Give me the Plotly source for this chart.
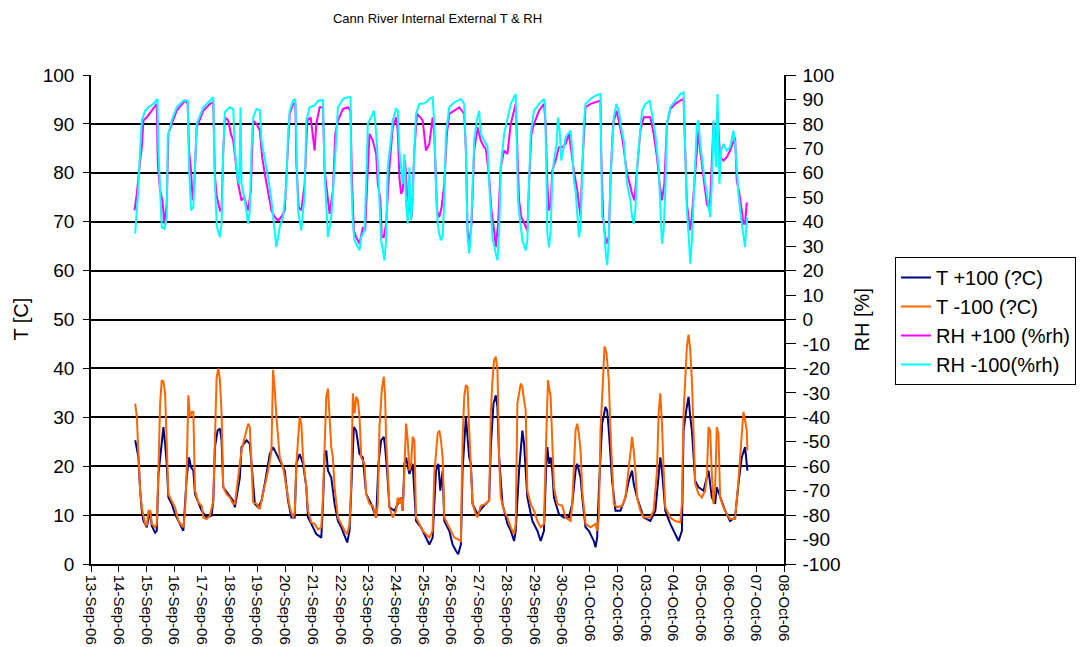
import pandas as pd
import plotly.graph_objects as go

START = pd.Timestamp("2006-09-13")
FONT = "Arial, Liberation Sans, sans-serif"

# Readings as (days since 13-Sep-06 00:00, value)
t_plus = [
    (1.594, 25.3), (1.653, 23.2), (1.713, 21.8), (1.773, 15.0), (1.833, 10.9), (1.893, 8.8),
    (2.013, 7.5), (2.133, 10.9), (2.193, 7.8), (2.313, 6.4), (2.373, 6.8), (2.433, 18.4),
    (2.529, 23.9), (2.613, 28.0), (2.673, 24.6), (2.733, 20.5), (2.792, 13.6), (2.912, 12.3),
    (3.032, 10.2), (3.212, 8.2), (3.332, 6.8), (3.452, 17.7), (3.536, 21.8), (3.608, 19.8),
    (3.692, 19.1), (3.752, 14.3), (3.992, 10.9), (4.171, 9.5), (4.351, 9.9), (4.411, 12.9),
    (4.471, 23.9), (4.567, 27.3), (4.651, 27.7), (4.711, 25.3), (4.771, 15.7), (4.951, 14.3),
    (5.131, 12.9), (5.191, 11.6), (5.370, 17.7), (5.430, 23.9), (5.610, 25.3), (5.730, 24.6),
    (5.790, 20.5), (5.910, 12.3), (6.030, 11.6), (6.150, 12.9), (6.270, 16.4), (6.449, 22.5),
    (6.569, 23.9), (6.689, 22.5), (6.869, 20.5), (6.989, 19.1), (7.109, 12.9), (7.229, 9.5),
    (7.349, 9.5), (7.409, 20.5), (7.528, 22.5), (7.648, 20.5), (7.768, 15.7), (7.828, 9.5),
    (7.948, 8.2), (8.128, 6.1), (8.308, 5.4), (8.368, 12.3), (8.428, 22.5), (8.488, 23.2),
    (8.548, 19.1), (8.668, 17.7), (8.787, 12.3),
    (8.908, 8.8), (9.028, 7.5), (9.148, 5.7), (9.243, 4.4), (9.327, 6.8), (9.387, 15.7),
    (9.483, 28.0), (9.567, 27.3), (9.687, 22.5), (9.807, 21.8), (9.927, 14.3), (10.107, 12.3),
    (10.287, 9.5), (10.371, 20.5), (10.466, 25.3), (10.562, 26.0), (10.610, 23.9), (10.682, 19.1),
    (10.766, 11.6), (10.946, 10.9), (11.066, 12.3), (11.186, 13.6), (11.246, 10.9), (11.306, 20.5),
    (11.366, 21.8), (11.486, 18.4), (11.606, 20.5), (11.725, 8.8), (11.905, 7.5), (12.085, 5.4),
    (12.205, 4.0), (12.325, 5.4), (12.445, 19.1), (12.529, 20.5), (12.601, 15.0), (12.685, 19.1),
    (12.745, 8.8), (12.924, 6.8), (13.044, 4.0), (13.164, 2.7), (13.248, 2.0), (13.344, 4.0),
    (13.404, 19.1), (13.524, 30.1), (13.584, 26.0), (13.644, 21.8), (13.704, 20.5), (13.764, 12.3),
    (13.943, 10.2), (14.123, 11.6), (14.363, 13.0), (14.423, 23.9), (14.519, 32.8), (14.603, 34.5),
    (14.663, 32.1), (14.723, 21.8), (14.843, 12.3), (15.023, 8.2), (15.143, 6.8), (15.263, 4.7),
    (15.322, 6.8), (15.442, 19.1), (15.562, 27.3), (15.622, 24.6), (15.682, 19.1), (15.742, 13.6),
    (15.922, 8.8), (16.102, 6.8), (16.222, 4.7), (16.341, 6.8), (16.425, 20.5),
    (16.462, 23.9), (16.522, 20.5), (16.582, 21.8), (16.641, 19.1), (16.701, 13.6), (16.881, 10.2),
    (17.061, 9.5), (17.241, 9.5), (17.361, 12.3), (17.481, 19.1), (17.541, 20.5), (17.661, 17.7),
    (17.721, 13.6), (17.840, 7.5), (17.960, 6.8), (18.140, 4.7), (18.200, 3.4), (18.260, 5.4),
    (18.320, 15.0), (18.440, 28.7), (18.560, 32.1), (18.620, 31.4), (18.680, 27.3), (18.800, 17.0),
    (18.920, 10.9), (19.099, 10.9), (19.279, 13.6), (19.399, 17.0), (19.519, 19.1), (19.579, 16.4),
    (19.699, 13.6), (19.939, 9.5), (20.178, 8.8), (20.358, 10.9), (20.478, 19.1), (20.538, 21.8),
    (20.598, 19.1), (20.718, 10.9), (20.898, 8.2), (21.078, 6.1), (21.198, 4.7), (21.317, 6.8),
    (21.377, 27.3), (21.473, 31.4), (21.557, 34.2), (21.617, 30.1), (21.677, 27.3), (21.797, 17.0),
    (21.917, 15.7), (22.097, 15.0), (22.217, 17.7), (22.277, 19.1), (22.397, 13.6), (22.516, 12.3),
    (22.576, 15.7), (22.696, 13.6), (22.876, 10.9), (23.056, 8.8), (23.236, 9.5), (23.356, 16.4),
    (23.476, 21.8), (23.596, 23.9), (23.680, 19.1),
]

t_minus = [
    (1.594, 32.8), (1.653, 30.1), (1.713, 22.5), (1.773, 15.0), (1.833, 11.6), (1.893, 9.5),
    (1.953, 8.2), (2.013, 7.8), (2.073, 10.9), (2.133, 10.9), (2.193, 8.2), (2.313, 7.5),
    (2.373, 8.2), (2.433, 19.1), (2.493, 32.8), (2.553, 37.6), (2.613, 37.3), (2.673, 34.9),
    (2.733, 21.8), (2.792, 14.3), (2.912, 12.9), (3.032, 11.6), (3.152, 8.8), (3.272, 7.8),
    (3.332, 7.5), (3.392, 10.6), (3.452, 19.1), (3.512, 34.5), (3.572, 30.1), (3.632, 31.1),
    (3.692, 31.1), (3.752, 15.0), (3.872, 12.6), (3.992, 11.9), (4.052, 9.5), (4.171, 9.2),
    (4.291, 9.9), (4.411, 12.9), (4.471, 27.3), (4.531, 38.0), (4.591, 40.0), (4.651, 37.6),
    (4.711, 30.8), (4.771, 15.7), (4.891, 14.3), (5.011, 13.6), (5.131, 12.3), (5.191, 12.3),
    (5.310, 17.7), (5.430, 23.2), (5.550, 26.0), (5.670, 28.7), (5.730, 28.0), (5.790, 20.5),
    (5.850, 12.6), (5.970, 12.3), (6.090, 11.2), (6.150, 12.9), (6.270, 15.7), (6.390, 19.1),
    (6.509, 23.2), (6.569, 39.7), (6.629, 35.6), (6.689, 30.1), (6.809, 21.8), (6.929, 19.8),
    (7.049, 15.7), (7.169, 11.6), (7.289, 9.5), (7.349, 10.2), (7.409, 20.5), (7.469, 25.3),
    (7.528, 30.1), (7.588, 28.7), (7.648, 21.8), (7.768, 15.7), (7.828, 10.9), (7.948, 8.5),
    (8.068, 8.2), (8.188, 7.1), (8.308, 7.5), (8.368, 13.6), (8.428, 23.9), (8.488, 34.2),
    (8.548, 35.9), (8.608, 30.1), (8.668, 23.9), (8.728, 21.8), (8.787, 15.7),
    (8.908, 9.5), (9.028, 8.2), (9.148, 6.8), (9.243, 6.1), (9.327, 8.2), (9.387, 16.4),
    (9.447, 34.9), (9.507, 30.8), (9.567, 34.2), (9.627, 33.5), (9.687, 30.1), (9.747, 21.8),
    (9.867, 20.5), (9.927, 14.3), (10.047, 12.3), (10.167, 11.9), (10.287, 9.5), (10.347, 12.3),
    (10.407, 28.0), (10.490, 35.6), (10.562, 38.3), (10.610, 34.2), (10.646, 25.3), (10.706, 19.1),
    (10.766, 11.6), (10.886, 9.5), (11.006, 10.9), (11.066, 13.6), (11.126, 12.3), (11.186, 13.6),
    (11.246, 10.9), (11.306, 19.1), (11.366, 28.7), (11.426, 25.3), (11.486, 19.1), (11.546, 20.5),
    (11.606, 26.0), (11.666, 25.3), (11.725, 9.5), (11.845, 8.2), (11.965, 6.8), (12.085, 6.1),
    (12.205, 5.4), (12.325, 6.8), (12.385, 18.4), (12.505, 26.6), (12.565, 27.3), (12.625, 25.3),
    (12.685, 21.8), (12.745, 9.5), (12.865, 8.2), (12.985, 6.8), (13.104, 5.4), (13.224, 5.1),
    (13.344, 4.7), (13.404, 25.3), (13.464, 34.2), (13.524, 36.6), (13.584, 36.2), (13.644, 27.3),
    (13.704, 20.5), (13.764, 12.3), (13.884, 10.2), (13.943, 9.5), (14.063, 11.9), (14.243, 12.3),
    (14.363, 13.0), (14.423, 30.8), (14.483, 37.6), (14.543, 41.7), (14.603, 42.4), (14.663, 39.7),
    (14.723, 21.8), (14.783, 13.6), (14.903, 10.9), (15.023, 9.5), (15.143, 7.5), (15.263, 6.1),
    (15.322, 8.2), (15.382, 32.8), (15.502, 36.9), (15.562, 36.2), (15.622, 33.5), (15.682, 31.4),
    (15.742, 15.0), (15.862, 12.3), (15.982, 10.9), (16.102, 8.8), (16.222, 7.5), (16.341, 8.2),
    (16.401, 21.8), (16.461, 34.9),
    (16.486, 37.6), (16.582, 34.2), (16.641, 23.9), (16.701, 15.7), (16.821, 12.3), (17.001, 11.9),
    (17.121, 9.5), (17.301, 8.8), (17.361, 12.3), (17.421, 20.5), (17.481, 27.3), (17.541, 28.7),
    (17.601, 26.6), (17.661, 23.2), (17.721, 15.0), (17.840, 8.2), (18.020, 7.5), (18.200, 8.2),
    (18.260, 6.8), (18.320, 9.5), (18.380, 27.3), (18.476, 38.3), (18.524, 44.5), (18.596, 43.1),
    (18.680, 37.6), (18.740, 27.3), (18.800, 17.7), (18.860, 12.3), (18.980, 11.6), (19.159, 11.9),
    (19.279, 13.6), (19.399, 19.1), (19.483, 23.9), (19.519, 26.0), (19.579, 23.2), (19.639, 19.1),
    (19.699, 13.6), (19.819, 10.9), (19.939, 9.5), (20.178, 9.5), (20.298, 10.9), (20.418, 19.1),
    (20.478, 30.8), (20.538, 34.9), (20.598, 28.7), (20.658, 19.1), (20.718, 11.6), (20.898, 9.5),
    (21.078, 8.8), (21.258, 8.5), (21.317, 12.3), (21.377, 30.8), (21.437, 38.3), (21.497, 44.5),
    (21.557, 46.9), (21.617, 43.8), (21.677, 37.6), (21.737, 26.0), (21.797, 16.4), (21.917, 14.3),
    (22.037, 13.6), (22.157, 15.0), (22.217, 17.7), (22.277, 28.0), (22.337, 27.3), (22.397, 18.4),
    (22.457, 12.3), (22.516, 15.7), (22.576, 28.0), (22.636, 26.6), (22.696, 13.6), (22.816, 11.6),
    (22.936, 10.2), (23.056, 9.2), (23.236, 9.2), (23.356, 17.0), (23.476, 26.0), (23.536, 31.1),
    (23.596, 29.4), (23.656, 27.3), (23.680, 23.2),
]

rh_plus = [
    (1.570, 44.6), (1.653, 51.4), (1.773, 65.0), (1.833, 70.5), (1.893, 81.4), (2.013, 82.7),
    (2.193, 85.4), (2.373, 88.2), (2.409, 63.7), (2.493, 52.8), (2.577, 48.7), (2.649, 39.2),
    (2.733, 47.3), (2.792, 75.9), (2.912, 80.0), (3.092, 85.4), (3.392, 89.5), (3.488, 88.2),
    (3.536, 69.1), (3.608, 60.9), (3.668, 48.7), (3.728, 55.5), (3.812, 78.6), (4.052, 85.4),
    (4.291, 88.2), (4.411, 88.8), (4.471, 58.2), (4.543, 50.1), (4.651, 44.6), (4.711, 44.6),
    (4.771, 69.1), (4.831, 82.7), (4.951, 81.4), (5.047, 75.9), (5.131, 73.2), (5.215, 65.0),
    (5.310, 55.5), (5.430, 48.7), (5.526, 50.1), (5.670, 44.6), (5.766, 52.8), (5.850, 81.4),
    (5.970, 80.0), (6.090, 77.3), (6.174, 66.4), (6.270, 59.6), (6.390, 51.4), (6.509, 44.6),
    (6.629, 41.9), (6.749, 40.5), (6.869, 41.9), (6.989, 44.6), (7.109, 71.8), (7.169, 84.1),
    (7.289, 88.2), (7.373, 88.2), (7.409, 63.7), (7.493, 46.0), (7.588, 44.6), (7.708, 55.5),
    (7.804, 81.4), (7.924, 82.7), (8.068, 69.1), (8.128, 80.0), (8.248, 86.8), (8.368, 86.8),
    (8.428, 60.9), (8.524, 50.1), (8.608, 43.2), (8.728, 52.8), (8.812, 75.9),
    (8.908, 81.4), (9.088, 86.1), (9.267, 86.8), (9.363, 85.4), (9.411, 58.2), (9.483, 36.4),
    (9.567, 33.7), (9.687, 31.0), (9.807, 37.8), (9.891, 36.4), (9.963, 55.5), (10.047, 75.9),
    (10.167, 73.2), (10.287, 67.7), (10.347, 55.5), (10.442, 48.7), (10.490, 33.7), (10.562, 33.7),
    (10.646, 39.2), (10.766, 62.3), (10.886, 78.6), (11.006, 82.7), (11.066, 77.3), (11.126, 58.2),
    (11.186, 51.4), (11.246, 52.8), (11.330, 65.0), (11.402, 51.4), (11.486, 46.0), (11.569, 41.9),
    (11.665, 69.1), (11.761, 84.1), (11.881, 82.7), (11.965, 81.4), (12.085, 69.1), (12.205, 71.8),
    (12.325, 82.7), (12.385, 75.9), (12.481, 44.6), (12.565, 41.9), (12.649, 46.0), (12.745, 55.5),
    (12.840, 75.9), (12.924, 84.1), (13.104, 85.4), (13.284, 86.8), (13.464, 84.1), (13.524, 69.1),
    (13.584, 36.4), (13.644, 31.0), (13.728, 39.2), (13.824, 69.1), (13.943, 78.6), (14.063, 73.2),
    (14.183, 70.5), (14.243, 69.8), (14.363, 58.2), (14.447, 44.6), (14.543, 36.4), (14.603, 29.6),
    (14.687, 39.2), (14.783, 62.3), (14.903, 69.1), (15.023, 67.7), (15.142, 80.0), (15.322, 88.2),
    (15.382, 69.1), (15.442, 48.7), (15.526, 41.9), (15.622, 39.2), (15.742, 36.4), (15.802, 55.5),
    (15.886, 75.9), (15.982, 80.0), (16.162, 85.4), (16.341, 88.2),
    (16.402, 80.0), (16.462, 55.5), (16.522, 44.6), (16.582, 47.3), (16.641, 60.9), (16.761, 65.0),
    (16.881, 70.5), (17.001, 70.5), (17.121, 71.8), (17.241, 75.9), (17.325, 67.7), (17.421, 60.9),
    (17.541, 52.8), (17.601, 47.3), (17.661, 41.9), (17.721, 62.3), (17.840, 86.8), (18.020, 88.2),
    (18.200, 88.8), (18.380, 89.5), (18.404, 69.1), (18.476, 41.9), (18.536, 35.1), (18.596, 31.0),
    (18.680, 33.7), (18.740, 56.9), (18.836, 80.0), (18.956, 85.4), (19.039, 81.4), (19.159, 74.6),
    (19.243, 67.7), (19.339, 59.6), (19.435, 55.5), (19.519, 51.4), (19.603, 48.7), (19.699, 60.9),
    (19.819, 77.3), (19.939, 82.7), (20.058, 82.7), (20.178, 82.7), (20.298, 75.9), (20.418, 66.4),
    (20.514, 55.5), (20.598, 48.7), (20.682, 55.5), (20.778, 80.0), (20.898, 86.1), (21.078, 88.2),
    (21.258, 89.5), (21.377, 90.2), (21.437, 69.1), (21.497, 47.3), (21.617, 36.4), (21.677, 41.9),
    (21.737, 51.4), (21.833, 66.4), (21.917, 77.3), (21.977, 69.1), (22.097, 58.2), (22.217, 47.3),
    (22.277, 46.0), (22.337, 48.7), (22.456, 80.0), (22.516, 69.1), (22.600, 85.4), (22.696, 66.4),
    (22.816, 65.0), (22.936, 66.4), (23.056, 69.1), (23.236, 74.6), (23.296, 56.9), (23.392, 51.4),
    (23.476, 44.6), (23.536, 39.2), (23.596, 39.2), (23.656, 47.7), (23.680, 47.3),
]

rh_minus = [
    (1.594, 35.1), (1.689, 50.1), (1.773, 69.1), (1.833, 81.4), (1.953, 85.4), (2.073, 86.8),
    (2.253, 88.2), (2.397, 90.2), (2.433, 69.1), (2.493, 51.4), (2.553, 37.8), (2.649, 37.1),
    (2.733, 41.9), (2.769, 74.6), (2.912, 81.4), (3.092, 86.8), (3.332, 89.5), (3.488, 89.5),
    (3.536, 62.3), (3.608, 44.6), (3.692, 46.0), (3.752, 62.3), (3.812, 80.0), (4.052, 86.8),
    (4.291, 89.5), (4.411, 90.9), (4.471, 55.5), (4.543, 37.8), (4.651, 33.7), (4.711, 39.2),
    (4.771, 69.1), (4.831, 84.8), (5.011, 86.8), (5.131, 86.1), (5.191, 69.1), (5.286, 58.2),
    (5.346, 55.5), (5.394, 86.8), (5.430, 55.5), (5.550, 48.7), (5.670, 39.2), (5.730, 44.6),
    (5.790, 69.1), (5.850, 82.7), (5.970, 86.1), (6.090, 85.7), (6.150, 73.2), (6.270, 66.4),
    (6.390, 58.2), (6.509, 48.7), (6.629, 36.4), (6.689, 29.6), (6.809, 37.8), (6.929, 41.9),
    (7.049, 55.5), (7.109, 75.9), (7.169, 85.4), (7.289, 89.5), (7.373, 90.2), (7.409, 69.1),
    (7.469, 44.6), (7.588, 36.4), (7.708, 51.4), (7.768, 81.4), (7.888, 86.8), (8.068, 87.5),
    (8.188, 89.5), (8.368, 89.8), (8.428, 59.6), (8.548, 33.7), (8.668, 41.9), (8.787, 62.3),
    (8.908, 86.8), (9.088, 90.2), (9.267, 90.9), (9.363, 90.9), (9.387, 58.2), (9.447, 39.2),
    (9.507, 32.4), (9.627, 29.6), (9.687, 28.3), (9.747, 33.7), (9.867, 36.4), (9.927, 55.5),
    (9.987, 80.0), (10.107, 82.7), (10.203, 85.4), (10.251, 81.4), (10.323, 70.5), (10.406, 48.7),
    (10.466, 32.4), (10.526, 28.3), (10.586, 24.2), (10.646, 32.4), (10.706, 62.3), (10.802, 71.8),
    (10.886, 81.4), (11.006, 86.1), (11.066, 85.4), (11.126, 69.1), (11.186, 60.9), (11.246, 55.5),
    (11.306, 67.7), (11.366, 47.3), (11.426, 39.2), (11.486, 62.3), (11.546, 40.5), (11.605, 48.7),
    (11.665, 69.1), (11.725, 84.1), (11.845, 88.2), (11.965, 88.2), (12.085, 88.8), (12.205, 90.2),
    (12.325, 90.9), (12.385, 80.0), (12.445, 55.5), (12.505, 39.2), (12.565, 35.1), (12.625, 32.4),
    (12.685, 33.7), (12.745, 48.7), (12.805, 75.9), (12.924, 86.8), (13.104, 88.8), (13.344, 90.2),
    (13.464, 88.2), (13.524, 69.1), (13.584, 33.7), (13.644, 26.9), (13.704, 35.1), (13.764, 52.8),
    (13.824, 73.2), (13.919, 81.4), (14.003, 85.4), (14.063, 75.9), (14.183, 73.2), (14.303, 70.5),
    (14.363, 55.5), (14.423, 41.9), (14.483, 33.7), (14.603, 26.9), (14.663, 24.2), (14.723, 35.1),
    (14.783, 62.3), (14.903, 75.9), (15.023, 82.7), (15.142, 88.2), (15.322, 92.2), (15.358, 69.1),
    (15.406, 48.7), (15.478, 40.5), (15.562, 32.4), (15.682, 28.3), (15.742, 32.4), (15.802, 55.5),
    (15.862, 75.9), (15.982, 85.4), (16.162, 88.2), (16.341, 90.2),
    (16.378, 88.2), (16.438, 55.5), (16.462, 35.1), (16.522, 29.6), (16.582, 36.4), (16.641, 58.2),
    (16.701, 65.0), (16.797, 71.8), (16.845, 82.7), (16.917, 75.9), (16.965, 65.0), (17.037, 69.1),
    (17.121, 74.6), (17.205, 75.9), (17.301, 77.3), (17.361, 69.1), (17.421, 56.9), (17.481, 52.8),
    (17.541, 41.9), (17.601, 33.7), (17.661, 37.8), (17.721, 62.3), (17.781, 80.0), (17.840, 88.2),
    (18.020, 90.2), (18.200, 91.6), (18.380, 92.2), (18.404, 69.1), (18.440, 41.9), (18.500, 40.5),
    (18.560, 28.3), (18.620, 22.2), (18.680, 32.4), (18.740, 56.9), (18.800, 69.1), (18.860, 82.7),
    (18.956, 88.2), (19.039, 85.4), (19.123, 78.6), (19.219, 73.2), (19.279, 63.7), (19.339, 55.5),
    (19.459, 48.7), (19.519, 41.9), (19.579, 39.2), (19.639, 44.6), (19.699, 62.3), (19.819, 75.9),
    (19.879, 85.4), (19.999, 88.2), (20.154, 89.5), (20.238, 84.1), (20.358, 75.9), (20.478, 62.3),
    (20.538, 48.7), (20.598, 31.0), (20.658, 36.4), (20.718, 52.8), (20.778, 80.0), (20.898, 86.8),
    (21.078, 89.5), (21.258, 92.2), (21.377, 92.9), (21.437, 69.1), (21.497, 44.6), (21.557, 35.1),
    (21.617, 22.8), (21.677, 32.4), (21.737, 48.7), (21.797, 62.3), (21.857, 80.0), (21.917, 81.4),
    (21.977, 71.8), (22.097, 60.9), (22.217, 51.4), (22.277, 44.6), (22.337, 41.9), (22.397, 55.5),
    (22.456, 81.4), (22.516, 69.1), (22.552, 62.3), (22.600, 92.2), (22.672, 55.5), (22.732, 69.1),
    (22.816, 71.8), (22.936, 69.1), (23.056, 70.5), (23.176, 77.3), (23.236, 71.8), (23.296, 62.3),
    (23.356, 51.4), (23.476, 39.2), (23.536, 33.7), (23.596, 29.6), (23.632, 36.4), (23.680, 41.9),
]

tick_dates = pd.date_range("2006-09-13", "2006-10-08", freq="D")
tick_labels = [d.strftime("%d-%b-%y") for d in tick_dates]
t_ticks = list(range(0, 101, 10))
rh_ticks = list(range(-100, 101, 10))
rh_tick_labels = [str(v) for v in rh_ticks]

series_names = ["T +100 (?C)", "T -100 (?C)", "RH +100 (%rh)", "RH -100(%rh)"]
series_colors = ["#000080", "#FF6600", "#FF00FF", "#00FFFF"]


def unpack(pairs):
    days, vals = zip(*pairs)
    return START + pd.to_timedelta(list(days), unit="D"), list(vals)


fig = go.Figure()
for pairs, name, color, axis in zip(
    [t_plus, t_minus, rh_plus, rh_minus], series_names, series_colors, ["y", "y", "y2", "y2"]
):
    x, y = unpack(pairs)
    fig.add_trace(go.Scatter(x=x, y=y, mode="lines", name=name, yaxis=axis,
                             line=dict(color=color, width=2)))

# plot area: x 91..785 px, y 75..564 px
fig.update_layout(
    width=1087, height=647,
    margin=dict(l=91, r=302, t=75, b=83),
    paper_bgcolor="white", plot_bgcolor="white",
    font=dict(family=FONT, color="black", size=18),
    title=dict(text="Cann River Internal External T & RH", x=0.5, xref="paper",
               y=1 - 18 / 647, yref="container", yanchor="middle",
               font=dict(size=13, family=FONT, color="black")),
    showlegend=True,
    legend=dict(x=(895 - 91) / 694, y=1 - (385 - 75) / 489, xanchor="left", yanchor="bottom",
                bordercolor="black", borderwidth=1, bgcolor="white",
                font=dict(size=20, family=FONT, color="black"), tracegroupgap=0),
    xaxis=dict(type="date", range=[tick_dates[0], tick_dates[-1]], automargin=False,
               tickmode="array", tickvals=tick_dates, ticktext=tick_labels,
               tickangle=90, tickfont=dict(size=15, family=FONT),
               ticks="outside", ticklen=6, tickcolor="black", tickwidth=1,
               showline=True, linecolor="black", linewidth=1.5,
               showgrid=False, zeroline=False),
    yaxis=dict(range=[0, 100], tickmode="array", tickvals=t_ticks, automargin=False,
               ticks="outside", ticklen=6, tickcolor="black", tickwidth=1,
               ticklabelstandoff=5,
               showline=True, linecolor="black", linewidth=1.5,
               showgrid=True, gridcolor="black", gridwidth=1.5, zeroline=False,
               tickfont=dict(size=19, family=FONT)),
    yaxis2=dict(range=[-100, 100], overlaying="y", side="right", automargin=False,
                tickmode="array", tickvals=rh_ticks, ticktext=rh_tick_labels,
                ticks="outside", ticklen=10, tickcolor="black", tickwidth=1,
                ticklabelstandoff=3,
                showline=True, linecolor="black", linewidth=1.5,
                showgrid=False, zeroline=False,
                tickfont=dict(size=19, family=FONT)),
    annotations=[
        dict(text="T [C]", x=(20 - 91) / 694, y=0.5, xref="paper", yref="paper",
             xanchor="center", yanchor="middle",
             textangle=-90, showarrow=False, font=dict(size=20, family=FONT)),
        dict(text="RH [%]", x=(863 - 91) / 694, y=0.5, xref="paper", yref="paper",
             xanchor="center", yanchor="middle",
             textangle=-90, showarrow=False, font=dict(size=20, family=FONT)),
    ],
)

fig.write_html("out.html")
